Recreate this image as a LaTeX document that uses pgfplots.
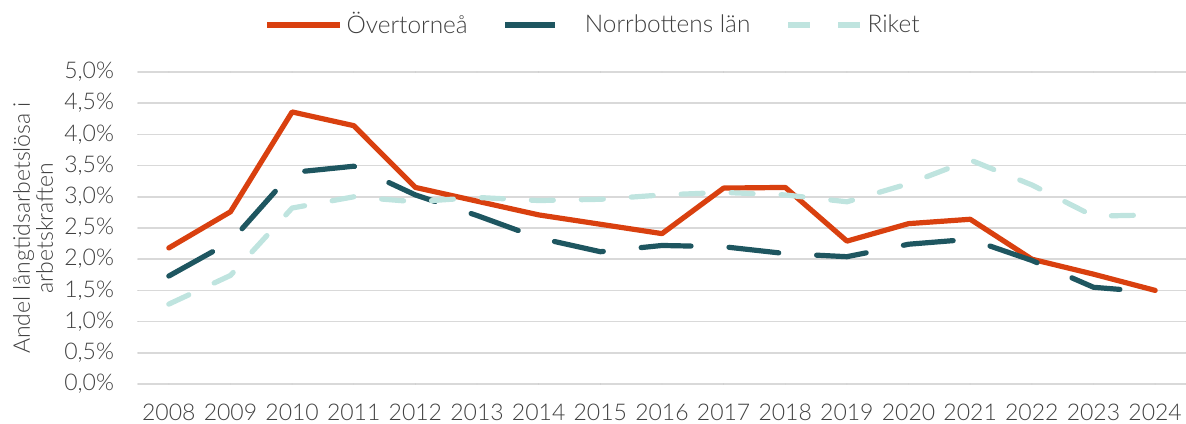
\documentclass[border=0pt]{standalone}
\usepackage{pgfplots}
\pgfplotsset{compat=1.18}
\usepackage{fontspec}
\setmainfont{Lato Light}
\definecolor{cRed}{HTML}{D9400F}
\definecolor{cDark}{HTML}{1E5660}
\definecolor{cLight}{HTML}{BFE4DF}
\definecolor{cGrid}{HTML}{D9D9D9}
\definecolor{cText}{HTML}{404040}
\begin{document}
\fontsize{11.5}{12}\selectfont
\begin{tikzpicture}
\useasboundingbox (-69pt,-19.5pt) rectangle (524pt,192pt);
\begin{axis}[
  width=524pt, height=156pt, scale only axis,
  xmin=2007.5, xmax=2024.5, ymin=0, ymax=5,
  axis line style={draw=none},
  major tick length=0pt,
  xtick={2008,...,2024},
  xticklabel style={/pgf/number format/1000 sep={}, yshift=-6pt},
  ytick={0,0.5,...,5},
  yticklabels={{0,0\%},{0,5\%},{1,0\%},{1,5\%},{2,0\%},{2,5\%},{3,0\%},{3,5\%},{4,0\%},{4,5\%},{5,0\%}},
  yticklabel style={xshift=-8pt},
  /pgf/number format/assume math mode=true,
  ymajorgrids, grid style={cGrid, line width=0.8pt},
  tick label style={font=\fontsize{11.5}{12}\selectfont, text=cText},
  every axis y label/.style={at={(axis description cs:-0.1002,0.5)}, rotate=90, anchor=center, align=center, font=\fontsize{11.5}{11.5}\selectfont, text=cText},
  ylabel={Andel långtidsarbetslösa i\\arbetskraften},
  legend columns=3,
  legend style={at={(axis description cs:0.5,1)}, anchor=center, yshift=23.5pt, xshift=-34pt, draw=none, fill=none, font=\fontsize{12.2}{12.5}\selectfont, text=cText, /tikz/every even column/.append style={column sep=15.5pt}},
  legend cell align=left,
  legend image code/.code={\draw[#1] (0pt,0pt) -- (36.5pt,0pt);},
  line cap=round, line join=round,
]
\addplot[cRed, line width=2.6pt, solid] coordinates {
(2008,2.18) (2009,2.76) (2010,4.36) (2011,4.14) (2012,3.15) (2013,2.93) (2014,2.71) (2015,2.56) (2016,2.41) (2017,3.14) (2018,3.15) (2019,2.29) (2020,2.57) (2021,2.64) (2022,2.00) (2023,1.76) (2024,1.50)};
\addlegendentry{Övertorneå}
\addplot[cDark, line width=2.6pt, dash pattern=on 25pt off 19pt] coordinates {
(2008,1.73) (2009,2.28) (2010,3.39) (2011,3.49) (2012,3.03) (2013,2.70) (2014,2.34) (2015,2.12) (2016,2.22) (2017,2.20) (2018,2.09) (2019,2.04) (2020,2.24) (2021,2.32) (2022,1.98) (2023,1.55) (2024,1.47)};
\addlegendentry{Norrbottens län}
\addplot[cLight, line width=2.6pt, dash pattern=on 11pt off 14pt] coordinates {
(2008,1.28) (2009,1.74) (2010,2.82) (2011,3.00) (2012,2.92) (2013,2.99) (2014,2.94) (2015,2.96) (2016,3.03) (2017,3.07) (2018,3.03) (2019,2.92) (2020,3.21) (2021,3.59) (2022,3.19) (2023,2.69) (2024,2.71)};
\addlegendentry{Riket}
\end{axis}
\end{tikzpicture}
\end{document}
